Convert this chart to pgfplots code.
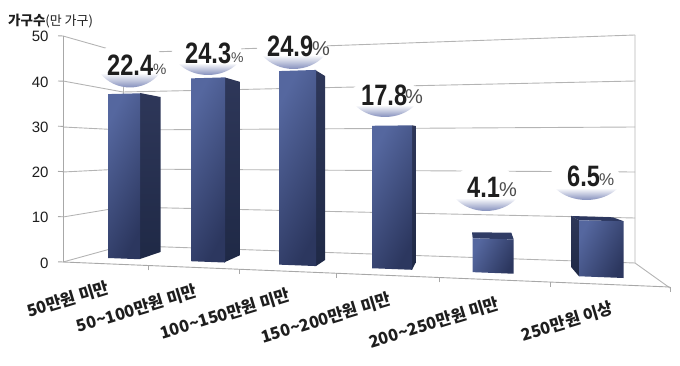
\documentclass[border=0pt]{standalone}
\usepackage{fontspec}
\usepackage{pgfplots}
\pgfplotsset{compat=1.18}
\setmainfont{Liberation Sans}
\newfontfamily\kr{Noto Sans CJK KR}
\definecolor{gridc}{HTML}{B4B4B4}
\definecolor{axc}{HTML}{A8A8A8}
\definecolor{txt}{HTML}{1E1E1E}
\definecolor{fl}{HTML}{55679F}
\definecolor{fd}{HTML}{2C375F}
\definecolor{sl}{HTML}{2E3759}
\definecolor{sd}{HTML}{1F2946}
\definecolor{lens}{HTML}{5A69A6}
\pgfplotsset{
  table/persp/.style={x=x,
    y expr={258+0.0388*(\thisrow{x}-108)-\thisrow{v}*(4.43+0.0017*(\thisrow{x}-108))}},
  frontface/.style={draw=none,mark=none,shade,top color=fl,bottom color=fd,shading angle=62},
  sideface/.style={draw=none,mark=none,shade,top color=sl,bottom color=sd},
  wall/.style={draw=gridc,line width=0.9pt,mark=none},
}
\newcommand\pct[6]{% x, baseline, percent size, xstretch, number, percent position
  \node[anchor=base west,inner sep=0pt,text=txt] at (axis cs:#1,#2)
    {\fontsize{29.5}{29.5}\selectfont\bfseries\scalebox{#4}[1]{#5}};
  \node[anchor=base west,inner sep=0pt,text=black!70] at (axis cs:#6)
    {\fontsize{#3}{#3}\selectfont\%};}
\newcommand\lens[4]{% xl, xr, ytop, ybot
  \path[shade,top color=white,bottom color=lens]
    (axis cs:#1,#3) .. controls (axis cs:{#1+0.25*(#2-#1)},{#4+(#4-#3)*0.33}) and (axis cs:{#1+0.75*(#2-#1)},{#4+(#4-#3)*0.33}) .. (axis cs:#2,#3) -- cycle;}
\begin{document}
\begin{tikzpicture}
\useasboundingbox (0,0) rectangle (680pt,366pt);
\begin{axis}[at={(0,0)},anchor=south west,x=1pt,y=1pt,y dir=reverse,
  xmin=0,xmax=680,ymin=0,ymax=366,hide axis,clip=false]
% walls and floor
\addplot[wall] coordinates {(63,36)(123,53)(635,35)};
\addplot[wall] coordinates {(63,81)(123,92)(635,81)};
\addplot[wall] coordinates {(63,127)(123,130)(635,127)};
\addplot[wall] coordinates {(63,172)(123,169)(635,172)};
\addplot[wall] coordinates {(63,217)(123,207)(635,218)};
\addplot[wall] coordinates {(63,262)(123,245.5)(635,263)};
\addplot[wall] coordinates {(123,53)(123,245.5)};
\addplot[wall] coordinates {(635,35)(635,263)(670,288)};
% white patches behind labels
\fill[white] (axis cs:131,62) ellipse [x radius=31pt,y radius=24pt];
\fill[white] (axis cs:207,53) ellipse [x radius=35pt,y radius=22pt];
\fill[white] (axis cs:292,47) ellipse [x radius=35pt,y radius=22pt];
\fill[white] (axis cs:385,98) ellipse [x radius=35pt,y radius=22pt];
\fill[white] (axis cs:485,188) ellipse [x radius=33pt,y radius=24pt];
\fill[white] (axis cs:585,178) ellipse [x radius=35pt,y radius=22pt];
\lens{100}{160}{73}{87.5}
\lens{178}{238}{63}{75}
\lens{262}{325}{55}{69}
\lens{355}{415}{105}{117}
\lens{455}{517}{198}{211}
\lens{555}{618}{188}{200}
% side and top faces
\addplot[sideface] coordinates {(140,93)(160.5,97)(160.5,252)(140,259)} -- cycle;
\addplot[sideface] coordinates {(225,77.5)(240.5,82)(240.5,255)(225,262)} -- cycle;
\addplot[sideface] coordinates {(316,70.5)(325,76)(325,260)(316,266)} -- cycle;
\addplot[sideface] coordinates {(412,125.3)(415.5,126)(415.5,263)(412,269.8)} -- cycle;
\addplot[draw=none,mark=none,fill=fd!90!fl] coordinates {(472,232.3)(511.3,232.7)(513.7,239.4)(472.7,238.3)} -- cycle;
\addplot[draw=none,mark=none,fill=fd] coordinates {(571.3,216)(612.7,217.3)(623.7,221.2)(579,220.3)} -- cycle;
\addplot[sideface] coordinates {(571.3,216)(579,220.3)(579,276.3)(571.3,267.3)} -- cycle;
% front faces: x position on the page, v = value
\addplot[frontface] table[row sep=\\,persp] {x v\\108 0\\140 0\\140 37\\108 37\\} -- cycle;
\addplot[frontface] table[row sep=\\,persp] {x v\\191 0\\225 0\\225 40\\191 40\\} -- cycle;
\addplot[frontface] table[row sep=\\,persp] {x v\\279 0\\316 0\\316 41\\279 41\\} -- cycle;
\addplot[frontface] table[row sep=\\,persp] {x v\\372 0\\412 0\\412 29.2\\372 29.2\\} -- cycle;
\addplot[frontface] table[row sep=\\,persp] {x v\\472.7 0\\513.7 0\\513.7 6.7\\472.7 6.7\\} -- cycle;
\addplot[frontface] table[row sep=\\,persp] {x v\\579 0\\623.7 0\\623.7 10.7\\579 10.7\\} -- cycle;
% percentage labels
\pct{107}{76}{15}{0.8}{22.4}{153,75}
\pct{185}{64}{14}{0.8}{24.3}{231,63}
\pct{267}{57}{20}{0.8}{24.9}{312,56}
\pct{361}{106}{20}{0.8}{17.8}{405,104}
\pct{467}{198}{20}{0.8}{4.1}{499,197}
\pct{567}{187}{17}{0.8}{6.5}{599,186}
% unit title
\node[anchor=base west,inner sep=0pt,text=txt] at (axis cs:8,26)
  {\kr\fontsize{13.5}{14}\selectfont\bfseries 가구수\fontsize{13}{14}\selectfont\mdseries(만 가구)};
\end{axis}
\begin{axis}[at={(63pt,104pt)},anchor=origin,disabledatascaling,
  x={(1pt,-0.0412pt)},y={(0pt,4.52pt)},
  xmin=0,xmax=607,ymin=0,ymax=50,
  axis lines=left,axis line style={draw=axc,line width=0.9pt,-},
  ytick={0,10,20,30,40,50},
  tick align=outside,major tick length=5pt,
  y tick style={draw=axc,line width=0.9pt},
  /pgf/number format/assume math mode=true,
  yticklabel style={font=\fontsize{15}{15}\selectfont,text=txt,xshift=-6pt,yshift=-1.5pt},
  xtick={40,128,221,322,430,544},
  xticklabels={50만원 미만,50\textasciitilde100만원 미만,100\textasciitilde150만원 미만,150\textasciitilde200만원 미만,200\textasciitilde250만원 미만,250만원 이상},
  x tick style={draw=none},
  xticklabel style={font=\kr\fontsize{16.5}{16.5}\selectfont\bfseries,text=txt,rotate=17,anchor=north east,yshift=-11pt,inner sep=0pt},
  extra x ticks={85,176,273,376,487,607},
  extra x tick labels={},
  extra x tick style={x tick style={draw=axc,line width=0.9pt}},
]
\end{axis}
\end{tikzpicture}
\end{document}
